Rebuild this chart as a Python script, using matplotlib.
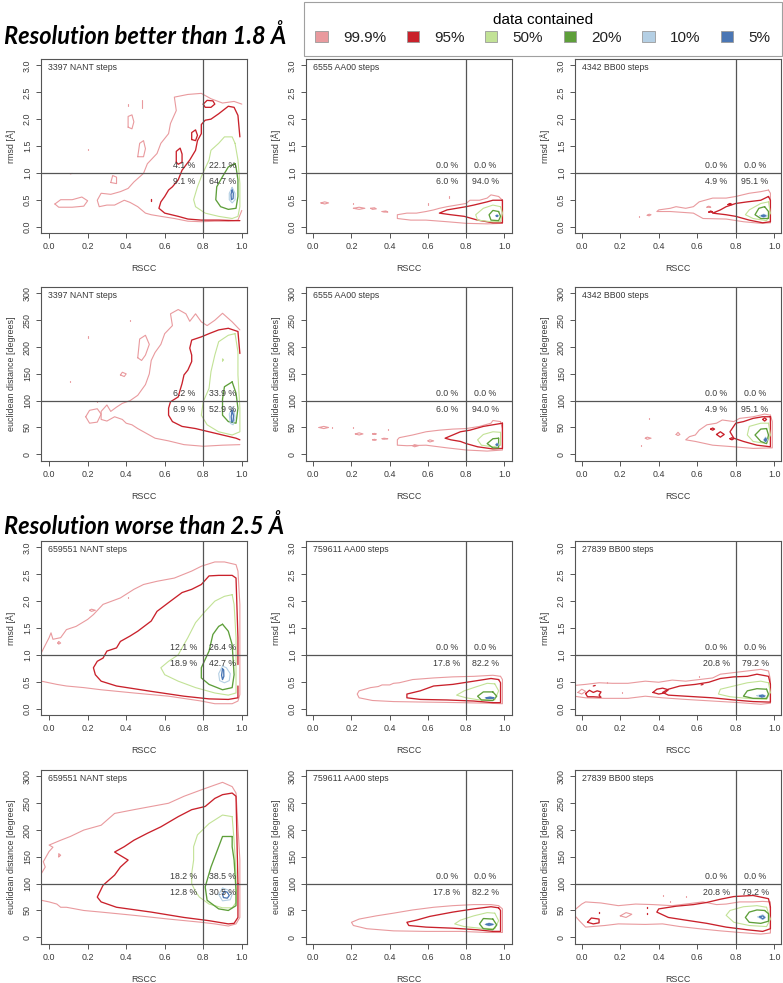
import matplotlib
matplotlib.use('Agg')
import matplotlib.pyplot as plt
from matplotlib.patches import Patch

plt.rcParams['font.family'] = ['Liberation Sans', 'DejaVu Sans']

# contour levels and their colours
LEVELS = ['99.9%', '95%', '50%', '20%', '10%', '5%']
COLORS = ['#E99A9E', '#C9212B', '#C2E296', '#5E9F3A', '#B4CFE4', '#4A76B4']
WIDTHS = [0.8, 0.95, 0.8, 0.95, 0.8, 0.95]

STEPS_HI = ['3397 NANT steps', '6555 AA00 steps', '4342 BB00 steps']
STEPS_LO = ['659551 NANT steps', '759611 AA00 steps', '27839 BB00 steps']

# quadrant percentages: upper-left, upper-right, lower-left, lower-right
PCT_HI_RMSD = [['4.1 %', '22.1 %', '9.1 %', '64.7 %'],
               ['0.0 %', '0.0 %', '6.0 %', '94.0 %'],
               ['0.0 %', '0.0 %', '4.9 %', '95.1 %']]
PCT_HI_EUCL = [['6.2 %', '33.9 %', '6.9 %', '52.9 %'],
               ['0.0 %', '0.0 %', '6.0 %', '94.0 %'],
               ['0.0 %', '0.0 %', '4.9 %', '95.1 %']]
PCT_LO_RMSD = [['12.1 %', '26.4 %', '18.9 %', '42.7 %'],
               ['0.0 %', '0.0 %', '17.8 %', '82.2 %'],
               ['0.0 %', '0.0 %', '20.8 %', '79.2 %']]
PCT_LO_EUCL = [['18.2 %', '38.5 %', '12.8 %', '30.5 %'],
               ['0.0 %', '0.0 %', '17.8 %', '82.2 %'],
               ['0.0 %', '0.0 %', '20.8 %', '79.2 %']]

# contour lines (RSCC, rmsd / euclidean distance)
# a loop whose last point repeats the first is closed
NANT_HI_RMSD = {
    '99.9%': [
        [(1.0, 2.28), (0.96, 2.33), (0.9, 2.3), (0.84, 2.38), (0.79, 2.48), (0.72, 2.46), (0.65, 2.41),
         (0.66, 2.16), (0.63, 1.92), (0.62, 1.73), (0.58, 1.55), (0.56, 1.36), (0.51, 1.17), (0.49, 0.99),
         (0.44, 0.83), (0.41, 0.71), (0.37, 0.65), (0.32, 0.6), (0.27, 0.62), (0.25, 0.49), (0.26, 0.37),
         (0.3, 0.4), (0.34, 0.4), (0.39, 0.49), (0.42, 0.45), (0.46, 0.37), (0.5, 0.25), (0.53, 0.22),
         (0.58, 0.19), (0.65, 0.15), (0.72, 0.1), (0.79, 0.09), (0.86, 0.1), (0.93, 0.1), (0.98, 0.12), (1.0, 0.3)],
        [(0.03, 0.42), (0.06, 0.5), (0.12, 0.5), (0.17, 0.55), (0.2, 0.48), (0.18, 0.38), (0.12, 0.36),
         (0.05, 0.36), (0.03, 0.42)],
        [(0.46, 1.3), (0.47, 1.55), (0.49, 1.6), (0.5, 1.45), (0.49, 1.3), (0.46, 1.3)],
        [(0.41, 1.85), (0.41, 2.05), (0.43, 2.08), (0.44, 1.95), (0.43, 1.82), (0.41, 1.85)],
        [(0.32, 0.82), (0.33, 0.95), (0.35, 0.92), (0.35, 0.8), (0.32, 0.82)],
        [(0.48, 2.2), (0.48, 2.36)],
        [(0.41, 2.24), (0.41, 2.28)],
        [(0.11, 0.98), (0.12, 0.99)],
        [(0.2, 1.42), (0.2, 1.45)],
    ],
    '95%': [
        [(0.99, 1.67), (0.98, 2.07), (0.96, 2.22), (0.93, 2.24), (0.88, 2.1), (0.84, 2.0), (0.81, 1.98),
         (0.79, 1.9), (0.79, 1.73), (0.77, 1.6), (0.76, 1.42), (0.73, 1.24), (0.69, 1.05), (0.67, 0.87),
         (0.64, 0.74), (0.62, 0.68), (0.6, 0.56), (0.58, 0.46), (0.57, 0.34), (0.6, 0.25), (0.67, 0.19),
         (0.72, 0.14), (0.79, 0.12), (0.88, 0.12), (0.96, 0.11), (0.99, 0.11)],
        [(0.8, 2.28), (0.82, 2.35), (0.85, 2.34), (0.86, 2.28), (0.84, 2.22), (0.81, 2.22), (0.8, 2.28)],
        [(0.66, 1.2), (0.66, 1.4), (0.68, 1.46), (0.69, 1.35), (0.69, 1.2), (0.67, 1.16), (0.66, 1.2)],
        [(0.74, 1.62), (0.74, 1.75), (0.76, 1.8), (0.77, 1.7), (0.76, 1.6), (0.74, 1.62)],
        [(0.53, 0.47), (0.53, 0.51)],
    ],
    '50%': [[(0.965, 1.55), (0.95, 1.67), (0.91, 1.67), (0.88, 1.55), (0.84, 1.42), (0.83, 1.24), (0.79, 0.93),
             (0.77, 0.74), (0.75, 0.5), (0.76, 0.37), (0.81, 0.25), (0.88, 0.19), (0.95, 0.15), (0.98, 0.19),
             (0.99, 0.37), (0.99, 0.8), (0.98, 1.24), (0.965, 1.55)]],
    '20%': [[(0.965, 1.17), (0.93, 1.11), (0.9, 0.93), (0.87, 0.74), (0.865, 0.5), (0.89, 0.37), (0.93, 0.32),
             (0.97, 0.34), (0.98, 0.56), (0.98, 0.87), (0.97, 1.11), (0.965, 1.17)]],
    '10%': [[(0.95, 0.73), (0.935, 0.62), (0.935, 0.5), (0.95, 0.44), (0.965, 0.5), (0.965, 0.62), (0.95, 0.73)]],
    '5%': [[(0.95, 0.68), (0.944, 0.6), (0.946, 0.5), (0.955, 0.52), (0.956, 0.62), (0.95, 0.68)]],
}

AA00_HI_RMSD = {
    '99.9%': [
        [(0.97, 0.56), (0.93, 0.59), (0.91, 0.53), (0.87, 0.49), (0.82, 0.49), (0.8, 0.43), (0.75, 0.4),
         (0.7, 0.37), (0.66, 0.34), (0.63, 0.31), (0.59, 0.28), (0.54, 0.25), (0.49, 0.25), (0.44, 0.22),
         (0.44, 0.15), (0.51, 0.12), (0.59, 0.12), (0.7, 0.09), (0.8, 0.06), (0.91, 0.05), (0.99, 0.06),
         (0.99, 0.49), (0.97, 0.56)],
        [(0.04, 0.44), (0.06, 0.46), (0.08, 0.44), (0.06, 0.42), (0.04, 0.44)],
        [(0.21, 0.34), (0.24, 0.36), (0.27, 0.34), (0.24, 0.32), (0.21, 0.34)],
        [(0.3, 0.34), (0.32, 0.35), (0.33, 0.33), (0.31, 0.32), (0.3, 0.34)],
        [(0.36, 0.28), (0.38, 0.29), (0.39, 0.27), (0.37, 0.27), (0.36, 0.28)],
        [(0.21, 0.42), (0.21, 0.44)], [(0.6, 0.41), (0.6, 0.43)], [(0.71, 0.54), (0.71, 0.56)],
    ],
    '95%': [[(0.99, 0.49), (0.94, 0.49), (0.91, 0.46), (0.84, 0.4), (0.8, 0.37), (0.75, 0.34), (0.7, 0.31),
             (0.66, 0.25), (0.72, 0.22), (0.79, 0.19), (0.86, 0.12), (0.94, 0.07), (0.99, 0.07), (0.99, 0.49)]],
    '50%': [[(0.98, 0.37), (0.94, 0.4), (0.89, 0.34), (0.85, 0.22), (0.86, 0.12), (0.93, 0.09), (0.98, 0.09),
             (0.99, 0.25), (0.98, 0.37)]],
    '20%': [[(0.97, 0.28), (0.94, 0.3), (0.92, 0.22), (0.93, 0.12), (0.97, 0.11), (0.98, 0.19), (0.97, 0.28)]],
    '10%': [[(0.955, 0.2), (0.962, 0.22), (0.97, 0.2), (0.962, 0.18), (0.955, 0.2)]],
    '5%': [[(0.958, 0.2), (0.962, 0.21), (0.966, 0.2), (0.962, 0.19), (0.958, 0.2)]],
}

BB00_HI_RMSD = {
    '99.9%': [
        [(0.97, 0.68), (0.93, 0.65), (0.87, 0.62), (0.8, 0.56), (0.75, 0.53), (0.68, 0.53), (0.61, 0.46),
         (0.58, 0.37), (0.54, 0.34), (0.49, 0.37), (0.46, 0.34), (0.4, 0.31), (0.39, 0.28), (0.46, 0.28),
         (0.58, 0.25), (0.63, 0.15), (0.75, 0.14), (0.84, 0.09), (0.93, 0.06), (0.98, 0.07), (0.98, 0.37),
         (0.98, 0.62), (0.97, 0.68)],
        [(0.34, 0.21), (0.35, 0.23), (0.36, 0.22), (0.35, 0.2), (0.34, 0.21)],
        [(0.3, 0.18), (0.3, 0.2)],
        [(0.65, 0.36), (0.66, 0.38), (0.67, 0.36), (0.65, 0.36)],
    ],
    '95%': [
        [(0.97, 0.56), (0.93, 0.49), (0.86, 0.46), (0.8, 0.43), (0.75, 0.37), (0.72, 0.31), (0.68, 0.25),
         (0.75, 0.22), (0.8, 0.19), (0.87, 0.12), (0.94, 0.07), (0.98, 0.09), (0.98, 0.49), (0.97, 0.56)],
        [(0.66, 0.27), (0.67, 0.29), (0.68, 0.27), (0.66, 0.27)],
        [(0.76, 0.41), (0.77, 0.43), (0.78, 0.41), (0.76, 0.41)],
    ],
    '50%': [[(0.97, 0.46), (0.93, 0.43), (0.87, 0.31), (0.85, 0.22), (0.89, 0.15), (0.96, 0.11), (0.98, 0.25),
             (0.97, 0.46)]],
    '20%': [[(0.95, 0.37), (0.92, 0.34), (0.9, 0.22), (0.93, 0.15), (0.97, 0.15), (0.97, 0.28), (0.95, 0.37)]],
    '10%': [[(0.925, 0.2), (0.945, 0.23), (0.965, 0.2), (0.945, 0.17), (0.925, 0.2)]],
    '5%': [[(0.935, 0.2), (0.945, 0.215), (0.955, 0.2), (0.945, 0.185), (0.935, 0.2)]],
}

NANT_HI_EUCL = {
    '99.9%': [
        [(0.99, 232), (0.95, 247), (0.9, 263), (0.86, 250), (0.82, 240), (0.79, 247), (0.76, 262), (0.73, 248),
         (0.71, 262), (0.67, 270), (0.63, 262), (0.64, 240), (0.6, 225), (0.58, 205), (0.55, 190), (0.53, 175),
         (0.52, 150), (0.5, 130), (0.48, 120), (0.46, 110), (0.42, 100), (0.38, 95), (0.35, 88), (0.32, 80),
         (0.3, 92), (0.27, 80), (0.27, 65), (0.3, 62), (0.34, 70), (0.38, 65), (0.4, 58), (0.43, 55),
         (0.46, 48), (0.5, 40), (0.55, 30), (0.62, 25), (0.7, 18), (0.8, 15), (0.9, 17), (0.99, 18)],
        [(0.19, 70), (0.21, 82), (0.25, 85), (0.27, 75), (0.25, 60), (0.21, 58), (0.19, 70)],
        [(0.46, 180), (0.47, 215), (0.5, 222), (0.52, 205), (0.5, 185), (0.48, 175), (0.46, 180)],
        [(0.37, 148), (0.38, 153), (0.4, 150), (0.39, 145), (0.37, 148)],
        [(0.11, 134), (0.11, 137)], [(0.2, 217), (0.2, 220)], [(0.25, 97), (0.25, 99)], [(0.42, 249), (0.42, 251)],
    ],
    '95%': [[(0.99, 188), (0.98, 229), (0.93, 235), (0.88, 232), (0.83, 225), (0.79, 219), (0.74, 213),
             (0.73, 198), (0.74, 185), (0.74, 173), (0.72, 157), (0.7, 148), (0.69, 132), (0.68, 120),
             (0.67, 107), (0.63, 98), (0.62, 86), (0.62, 73), (0.64, 61), (0.69, 52), (0.76, 48), (0.83, 42),
             (0.9, 36), (0.97, 30), (0.99, 27)]],
    '50%': [
        [(0.965, 225), (0.93, 222), (0.88, 210), (0.86, 185), (0.84, 154), (0.83, 123), (0.8, 98), (0.79, 73),
         (0.82, 55), (0.88, 42), (0.95, 36), (0.99, 42), (0.99, 86), (0.98, 148), (0.98, 191), (0.965, 225)],
        [(0.9, 174), (0.9, 178), (0.905, 176), (0.9, 174)],
    ],
    '20%': [[(0.95, 135), (0.91, 126), (0.9, 103), (0.9, 73), (0.93, 61), (0.97, 58), (0.98, 86), (0.97, 114),
             (0.95, 135)]],
    '10%': [[(0.95, 88), (0.935, 75), (0.94, 58), (0.955, 55), (0.965, 68), (0.96, 82), (0.95, 88)]],
    '5%': [[(0.95, 82), (0.945, 70), (0.948, 60), (0.955, 62), (0.957, 72), (0.95, 82)]],
}

AA00_HI_EUCL = {
    '99.9%': [
        [(0.98, 61), (0.94, 63), (0.93, 58), (0.87, 52), (0.8, 48), (0.73, 47), (0.66, 45), (0.59, 42),
         (0.52, 36), (0.45, 31), (0.44, 27), (0.44, 17), (0.49, 16), (0.59, 17), (0.7, 12), (0.8, 8),
         (0.91, 6), (0.99, 8), (0.99, 48), (0.98, 61)],
        [(0.03, 50), (0.055, 52), (0.08, 50), (0.055, 48), (0.03, 50)],
        [(0.1, 49), (0.1, 51)], [(0.21, 49), (0.21, 51)],
        [(0.22, 38), (0.24, 40), (0.26, 38), (0.24, 36), (0.22, 38)],
        [(0.31, 38), (0.32, 39), (0.33, 38), (0.32, 37), (0.31, 38)],
        [(0.31, 27), (0.32, 28), (0.33, 27), (0.32, 26), (0.31, 27)],
        [(0.36, 29), (0.37, 30), (0.39, 29), (0.37, 28), (0.36, 29)],
        [(0.39, 46), (0.39, 48)],
        [(0.52, 16), (0.53, 18), (0.55, 16), (0.53, 14), (0.52, 16)],
        [(0.6, 25), (0.61, 27), (0.63, 25), (0.61, 23), (0.6, 25)],
    ],
    '95%': [[(0.99, 58), (0.94, 55), (0.89, 52), (0.82, 45), (0.77, 42), (0.73, 36), (0.69, 30), (0.72, 27),
             (0.77, 24), (0.8, 20), (0.86, 14), (0.94, 10), (0.99, 11), (0.99, 58)]],
    '50%': [[(0.98, 41), (0.94, 42), (0.89, 37), (0.86, 27), (0.88, 17), (0.94, 14), (0.98, 17), (0.98, 41)]],
    '20%': [[(0.97, 30), (0.94, 29), (0.91, 20), (0.94, 12), (0.97, 12), (0.97, 30)]],
    '10%': [[(0.955, 18), (0.962, 21), (0.97, 18), (0.962, 15), (0.955, 18)]],
    '5%': [[(0.958, 18), (0.962, 19.5), (0.966, 18), (0.962, 16.5), (0.958, 18)]],
}

BB00_HI_EUCL = {
    '99.9%': [
        [(0.98, 73), (0.95, 75), (0.89, 70), (0.82, 67), (0.79, 61), (0.73, 64), (0.7, 58), (0.65, 55),
         (0.61, 45), (0.59, 36), (0.56, 33), (0.54, 27), (0.59, 24), (0.68, 17), (0.79, 14), (0.89, 11),
         (0.99, 12), (0.99, 61), (0.98, 73)],
        [(0.33, 30), (0.34, 32), (0.36, 30), (0.34, 28), (0.33, 30)],
        [(0.35, 66), (0.35, 68)], [(0.31, 16), (0.31, 18)],
        [(0.49, 37), (0.5, 41), (0.51, 37), (0.5, 35), (0.49, 37)],
    ],
    '95%': [
        [(0.98, 70), (0.94, 70), (0.89, 67), (0.84, 61), (0.8, 58), (0.77, 42), (0.79, 30), (0.84, 24),
         (0.91, 17), (0.98, 14), (0.98, 70)],
        [(0.7, 37), (0.72, 42), (0.74, 37), (0.72, 32), (0.7, 37)],
        [(0.67, 47), (0.68, 49), (0.69, 47), (0.68, 45), (0.67, 47)],
        [(0.77, 29), (0.78, 31), (0.79, 29), (0.78, 27), (0.77, 29)],
        [(0.94, 65), (0.95, 68), (0.96, 65), (0.95, 62), (0.94, 65)],
    ],
    '50%': [[(0.97, 58), (0.93, 58), (0.87, 52), (0.86, 36), (0.89, 24), (0.96, 20), (0.98, 36), (0.97, 58)]],
    '20%': [[(0.96, 48), (0.93, 47), (0.9, 36), (0.93, 24), (0.96, 20), (0.97, 36), (0.96, 48)]],
    '10%': [[(0.945, 27), (0.955, 32), (0.965, 27), (0.955, 22), (0.945, 27)]],
    '5%': [[(0.95, 27), (0.955, 30), (0.96, 27), (0.955, 24), (0.95, 27)]],
}

NANT_LO_RMSD = {
    '99.9%': [
        [(-0.04, 1.04), (0.0, 1.32), (0.01, 1.41), (0.02, 1.29), (0.06, 1.32), (0.09, 1.47), (0.14, 1.53),
         (0.2, 1.66), (0.23, 1.75), (0.28, 1.94), (0.37, 2.06), (0.44, 2.22), (0.49, 2.31), (0.56, 2.37),
         (0.65, 2.43), (0.74, 2.56), (0.79, 2.65), (0.86, 2.73), (0.91, 2.73), (0.97, 2.68), (0.98, 2.56),
         (0.99, 1.94), (0.99, 1.0), (0.99, 0.26), (0.98, 0.14), (0.95, 0.09), (0.86, 0.09), (0.79, 0.14),
         (0.62, 0.23), (0.44, 0.29), (0.27, 0.35), (0.18, 0.39), (0.09, 0.42), (0.04, 0.45), (0.0, 0.48),
         (-0.04, 0.51)],
        [(0.21, 1.83), (0.22, 1.85), (0.24, 1.83), (0.22, 1.81), (0.21, 1.83)],
        [(0.045, 1.22), (0.05, 1.25), (0.06, 1.22), (0.05, 1.2), (0.045, 1.22)],
        [(0.41, 2.05), (0.41, 2.07)],
    ],
    '95%': [[(0.98, 0.82), (0.98, 1.32), (0.97, 2.43), (0.95, 2.48), (0.88, 2.48), (0.83, 2.47), (0.79, 2.31),
             (0.74, 2.22), (0.69, 2.16), (0.63, 2.0), (0.56, 1.81), (0.53, 1.63), (0.46, 1.44), (0.42, 1.35),
             (0.37, 1.25), (0.35, 1.13), (0.3, 1.07), (0.28, 0.94), (0.25, 0.88), (0.23, 0.76), (0.24, 0.63),
             (0.27, 0.51), (0.35, 0.42), (0.53, 0.32), (0.7, 0.23), (0.83, 0.18), (0.93, 0.17), (0.98, 0.2),
             (0.98, 0.42)]],
    '50%': [[(0.95, 2.12), (0.91, 2.09), (0.86, 2.0), (0.81, 1.81), (0.76, 1.6), (0.72, 1.32), (0.69, 1.13),
             (0.67, 1.0), (0.62, 0.88), (0.58, 0.76), (0.6, 0.63), (0.67, 0.51), (0.76, 0.39), (0.86, 0.29),
             (0.93, 0.25), (0.97, 0.29), (0.97, 0.7), (0.97, 1.32), (0.96, 1.94), (0.95, 2.12)]],
    '20%': [[(0.9, 1.57), (0.88, 1.53), (0.85, 1.38), (0.83, 1.07), (0.79, 0.76), (0.79, 0.57), (0.83, 0.45),
             (0.9, 0.35), (0.95, 0.39), (0.96, 0.63), (0.95, 1.19), (0.93, 1.44), (0.9, 1.57)]],
    '10%': [[(0.9, 0.79), (0.88, 0.65), (0.885, 0.52), (0.91, 0.48), (0.935, 0.52), (0.94, 0.65), (0.92, 0.76),
             (0.9, 0.79)]],
    '5%': [[(0.9, 0.74), (0.895, 0.62), (0.9, 0.54), (0.907, 0.6), (0.906, 0.72), (0.9, 0.74)]],
}

AA00_LO_RMSD = {
    '99.9%': [[(0.98, 0.6), (0.94, 0.62), (0.84, 0.6), (0.73, 0.59), (0.63, 0.57), (0.52, 0.54), (0.45, 0.48),
               (0.42, 0.47), (0.4, 0.44), (0.36, 0.44), (0.34, 0.41), (0.3, 0.39), (0.24, 0.33), (0.23, 0.27),
               (0.24, 0.2), (0.31, 0.15), (0.42, 0.13), (0.59, 0.12), (0.77, 0.11), (0.91, 0.1), (0.99, 0.09),
               (0.99, 0.54), (0.98, 0.6)]],
    '95%': [[(0.97, 0.54), (0.93, 0.56), (0.84, 0.51), (0.73, 0.45), (0.63, 0.42), (0.56, 0.33), (0.49, 0.27),
             (0.49, 0.2), (0.56, 0.17), (0.7, 0.16), (0.84, 0.14), (0.94, 0.11), (0.98, 0.11), (0.98, 0.48),
             (0.97, 0.54)]],
    '50%': [[(0.95, 0.46), (0.91, 0.47), (0.84, 0.39), (0.79, 0.33), (0.75, 0.25), (0.8, 0.2), (0.87, 0.16),
             (0.95, 0.16), (0.97, 0.33), (0.95, 0.46)]],
    '20%': [[(0.94, 0.31), (0.89, 0.31), (0.86, 0.23), (0.88, 0.16), (0.94, 0.15), (0.96, 0.23), (0.94, 0.31)]],
    '10%': [[(0.9, 0.2), (0.925, 0.22), (0.95, 0.2), (0.925, 0.18), (0.9, 0.2)]],
    '5%': [[(0.905, 0.2), (0.925, 0.21), (0.945, 0.2), (0.925, 0.19), (0.905, 0.2)]],
}

BB00_LO_RMSD = {
    '99.9%': [
        [(-0.04, 0.43), (0.02, 0.45), (0.09, 0.48), (0.16, 0.47), (0.24, 0.47), (0.33, 0.51), (0.4, 0.49),
         (0.47, 0.53), (0.54, 0.51), (0.61, 0.54), (0.68, 0.57), (0.72, 0.64), (0.79, 0.67), (0.86, 0.7),
         (0.93, 0.73), (0.97, 0.7), (0.98, 0.54), (0.98, 0.1), (0.93, 0.08), (0.82, 0.11), (0.68, 0.14),
         (0.54, 0.17), (0.42, 0.2), (0.33, 0.23), (0.24, 0.19), (0.12, 0.19), (0.02, 0.2), (-0.04, 0.23)],
        [(-0.02, 0.3), (0.0, 0.36), (0.02, 0.32), (0.0, 0.27), (-0.02, 0.3)],
        [(0.13, 0.47), (0.13, 0.49)], [(0.21, 0.29), (0.21, 0.31)], [(0.61, 0.59), (0.61, 0.61)],
    ],
    '95%': [
        [(0.98, 0.45), (0.97, 0.6), (0.91, 0.64), (0.86, 0.6), (0.79, 0.59), (0.72, 0.56), (0.66, 0.49),
         (0.59, 0.45), (0.51, 0.42), (0.45, 0.36), (0.42, 0.3), (0.45, 0.25), (0.54, 0.23), (0.68, 0.2),
         (0.79, 0.16), (0.89, 0.13), (0.98, 0.12), (0.98, 0.45)],
        [(0.02, 0.28), (0.04, 0.34), (0.06, 0.3), (0.08, 0.33), (0.1, 0.31), (0.09, 0.25), (0.1, 0.21),
         (0.06, 0.22), (0.03, 0.22), (0.02, 0.28)],
        [(0.37, 0.3), (0.39, 0.36), (0.42, 0.38), (0.45, 0.35), (0.43, 0.29), (0.4, 0.27), (0.37, 0.3)],
        [(0.06, 0.42), (0.07, 0.43)], [(0.62, 0.44), (0.63, 0.45)],
    ],
    '50%': [[(0.97, 0.48), (0.93, 0.51), (0.86, 0.48), (0.79, 0.42), (0.72, 0.36), (0.71, 0.27), (0.77, 0.22),
             (0.86, 0.19), (0.96, 0.17), (0.98, 0.3), (0.97, 0.48)]],
    '20%': [[(0.96, 0.36), (0.91, 0.37), (0.86, 0.33), (0.84, 0.23), (0.89, 0.19), (0.96, 0.19), (0.97, 0.27),
             (0.96, 0.36)]],
    '10%': [[(0.91, 0.24), (0.935, 0.26), (0.955, 0.24), (0.935, 0.21), (0.91, 0.24)]],
    '5%': [[(0.925, 0.235), (0.94, 0.25), (0.95, 0.23), (0.935, 0.215), (0.925, 0.235)]],
}

NANT_LO_EUCL = {
    '99.9%': [
        [(-0.04, 119), (-0.02, 131), (-0.03, 141), (0.0, 160), (0.02, 168), (0.0, 172), (0.06, 181),
         (0.11, 188), (0.18, 200), (0.27, 209), (0.34, 231), (0.44, 238), (0.53, 244), (0.62, 250), (0.7, 263),
         (0.79, 275), (0.86, 284), (0.9, 289), (0.95, 281), (0.97, 269), (0.98, 206), (0.99, 144), (0.99, 81),
         (0.99, 37), (0.97, 25), (0.93, 21), (0.86, 25), (0.79, 28), (0.62, 34), (0.44, 41), (0.27, 47),
         (0.18, 50), (0.09, 56), (0.06, 56), (0.04, 62), (0.0, 66), (-0.04, 69)],
        [(0.05, 150), (0.05, 156), (0.06, 153), (0.05, 150)],
    ],
    '95%': [[(0.98, 100), (0.97, 263), (0.95, 269), (0.9, 266), (0.86, 259), (0.81, 244), (0.74, 238),
             (0.67, 225), (0.58, 206), (0.51, 194), (0.44, 181), (0.39, 169), (0.34, 159), (0.41, 144),
             (0.37, 131), (0.34, 116), (0.28, 97), (0.25, 75), (0.27, 66), (0.35, 56), (0.53, 47), (0.7, 37),
             (0.83, 31), (0.93, 25), (0.96, 26), (0.98, 37), (0.98, 100)]],
    '50%': [[(0.95, 225), (0.9, 228), (0.83, 212), (0.77, 191), (0.75, 169), (0.75, 144), (0.74, 119),
             (0.74, 100), (0.76, 85), (0.78, 75), (0.83, 62), (0.9, 55), (0.95, 55), (0.97, 65), (0.97, 120),
             (0.96, 180), (0.95, 225)]],
    '20%': [[(0.95, 188), (0.9, 188), (0.88, 169), (0.84, 131), (0.81, 94), (0.82, 69), (0.88, 53), (0.93, 50),
             (0.97, 59), (0.97, 88), (0.96, 144), (0.95, 169), (0.95, 188)]],
    '10%': [[(0.88, 80), (0.9, 92), (0.93, 88), (0.95, 80), (0.94, 70), (0.9, 68), (0.88, 80)]],
    '5%': [[(0.9, 80), (0.91, 86), (0.925, 84), (0.935, 78), (0.925, 73), (0.905, 74), (0.9, 80)]],
}

AA00_LO_EUCL = {
    '99.9%': [[(0.97, 59), (0.93, 61), (0.84, 61), (0.73, 59), (0.63, 56), (0.52, 51), (0.42, 45), (0.33, 40),
               (0.24, 34), (0.2, 28), (0.21, 22), (0.28, 16), (0.42, 12), (0.59, 11), (0.77, 11), (0.91, 9),
               (0.99, 9), (0.99, 53), (0.97, 59)]],
    '95%': [[(0.97, 55), (0.93, 57), (0.84, 53), (0.73, 47), (0.61, 39), (0.54, 32), (0.49, 28), (0.5, 22),
             (0.59, 19), (0.73, 17), (0.86, 14), (0.94, 11), (0.98, 11), (0.98, 50), (0.97, 55)]],
    '50%': [[(0.95, 45), (0.91, 46), (0.84, 40), (0.77, 32), (0.74, 25), (0.79, 20), (0.87, 17), (0.95, 16),
             (0.97, 31), (0.95, 45)]],
    '20%': [[(0.94, 34), (0.89, 35), (0.87, 25), (0.89, 16), (0.94, 14), (0.96, 23), (0.94, 34)]],
    '10%': [[(0.9, 24), (0.92, 26.5), (0.945, 24), (0.92, 21.5), (0.9, 24)]],
    '5%': [[(0.905, 24), (0.92, 25.5), (0.94, 24), (0.92, 22.5), (0.905, 24)]],
}

BB00_LO_EUCL = {
    '99.9%': [
        [(-0.04, 50), (0.0, 62), (0.02, 66), (0.1, 64), (0.19, 59), (0.28, 62), (0.37, 61), (0.47, 59),
         (0.54, 62), (0.63, 66), (0.7, 61), (0.75, 62), (0.82, 66), (0.89, 66), (0.94, 67), (0.98, 66),
         (0.98, 56), (0.98, 8), (0.93, 6), (0.82, 9), (0.72, 12), (0.61, 16), (0.51, 20), (0.42, 25),
         (0.33, 24), (0.19, 25), (0.12, 22), (0.02, 19), (-0.01, 30), (-0.04, 42)],
        [(0.2, 40), (0.23, 46), (0.26, 43), (0.23, 37), (0.2, 40)],
        [(0.42, 77), (0.42, 79)], [(0.54, 75), (0.54, 77)], [(0.46, 66), (0.46, 68)],
    ],
    '95%': [
        [(0.98, 56), (0.97, 72), (0.89, 78), (0.79, 76), (0.72, 71), (0.65, 65), (0.58, 61), (0.49, 58),
         (0.4, 53), (0.39, 47), (0.45, 37), (0.54, 32), (0.65, 26), (0.75, 19), (0.86, 14), (0.94, 11),
         (0.98, 16), (0.98, 56)],
        [(0.03, 28), (0.05, 36), (0.09, 34), (0.09, 27), (0.06, 25), (0.03, 28)],
        [(0.09, 46), (0.09, 48)], [(0.34, 55), (0.34, 57)], [(0.34, 43), (0.34, 45)],
    ],
    '50%': [[(0.96, 56), (0.91, 59), (0.84, 57), (0.77, 50), (0.75, 41), (0.79, 28), (0.87, 22), (0.96, 20),
             (0.98, 34), (0.96, 56)]],
    '20%': [[(0.95, 50), (0.91, 51), (0.87, 47), (0.85, 37), (0.87, 28), (0.93, 26), (0.97, 30), (0.97, 44),
             (0.95, 50)]],
    '10%': [[(0.915, 38), (0.94, 42), (0.955, 37), (0.94, 33), (0.915, 38)]],
    '5%': [[(0.925, 38), (0.94, 40), (0.95, 37), (0.94, 34.5), (0.925, 38)]],
}

GRID = [
    ([NANT_HI_RMSD, AA00_HI_RMSD, BB00_HI_RMSD], STEPS_HI, PCT_HI_RMSD, 'rmsd'),
    ([NANT_HI_EUCL, AA00_HI_EUCL, BB00_HI_EUCL], STEPS_HI, PCT_HI_EUCL, 'eucl'),
    ([NANT_LO_RMSD, AA00_LO_RMSD, BB00_LO_RMSD], STEPS_LO, PCT_LO_RMSD, 'rmsd'),
    ([NANT_LO_EUCL, AA00_LO_EUCL, BB00_LO_EUCL], STEPS_LO, PCT_LO_EUCL, 'eucl'),
]

W, H = 783, 983
COL_LEFT = [41, 306, 575]
ROW_TOP = [59, 287, 541, 770]
AX_W, AX_H = 206, 174
XLIMS = [(-0.042, 1.027), (-0.038, 1.04), (-0.035, 1.035)]
GREY = '#555555'
TXT = '#3a3a3a'

fig = plt.figure(figsize=(W / 100, H / 100), dpi=100)


def draw_panel(ax, contours, steps, pcts, kind, xlim):
    for lev, color, lw in zip(LEVELS, COLORS, WIDTHS):
        for pts in contours.get(lev, []):
            ax.plot([p[0] for p in pts], [p[1] for p in pts], color=color, lw=lw,
                    solid_joinstyle='round', solid_capstyle='round')

    if kind == 'rmsd':
        thr = 1.0
        ax.set_ylim(-0.12, 3.12)
        yt = [0.0, 0.5, 1.0, 1.5, 2.0, 2.5, 3.0]
        ax.set_yticks(yt, ['%.1f' % v for v in yt])
        ax.set_ylabel('rmsd [Å]', fontsize=6.4, color=TXT, labelpad=5)
    else:
        thr = 100
        ax.set_ylim(-12.5, 312)
        yt = [0, 50, 100, 150, 200, 250, 300]
        ax.set_yticks(yt, [str(v) for v in yt])
        ax.set_ylabel('euclidean distance [degrees]', fontsize=6.4, color=TXT, labelpad=5)

    ax.set_xlim(*xlim)
    xt = [0.0, 0.2, 0.4, 0.6, 0.8, 1.0]
    ax.set_xticks(xt, ['%.1f' % v for v in xt])
    ax.set_xlabel('RSCC', fontsize=6.4, color=TXT, labelpad=9)

    ax.axhline(thr, color=GREY, lw=0.9)
    ax.axvline(0.8, color=GREY, lw=0.9)

    ax.text(0.035, 0.95, steps, transform=ax.transAxes, fontsize=6.3, color=TXT, ha='left', va='center')
    ax.text(0.7, thr * 1.13, pcts[0], fontsize=6.3, color=TXT, ha='center', va='center')
    ax.text(0.9, thr * 1.13, pcts[1], fontsize=6.3, color=TXT, ha='center', va='center')
    ax.text(0.7, thr * 0.83, pcts[2], fontsize=6.3, color=TXT, ha='center', va='center')
    ax.text(0.9, thr * 0.83, pcts[3], fontsize=6.3, color=TXT, ha='center', va='center')

    for s in ax.spines.values():
        s.set_color(GREY)
        s.set_linewidth(0.8)
    ax.tick_params(direction='out', length=3.5, width=0.7, color=GREY, labelsize=6.4,
                   labelcolor=TXT, pad=3)
    ax.tick_params(axis='y', labelrotation=90)
    for lab in ax.get_yticklabels():
        lab.set_va('center')


for r, (panels, steps, pcts, kind) in enumerate(GRID):
    for c in range(3):
        rect = [COL_LEFT[c] / W, 1 - (ROW_TOP[r] + AX_H) / H, AX_W / W, AX_H / H]
        ax = fig.add_axes(rect)
        draw_panel(ax, panels[c], steps[c], pcts[c], kind, XLIMS[c])

# section titles
title_kw = dict(fontfamily=['Lato', 'DejaVu Sans'], fontweight='bold', fontstyle='italic',
                fontsize=17, va='center', ha='left', color='black')
fig.text(4 / W, 1 - 36 / H, 'Resolution better than 1.8 Å', **title_kw)
fig.text(4 / W, 1 - 526 / H, 'Resolution worse than 2.5 Å', **title_kw)

handles = [Patch(facecolor=c, edgecolor='#9a9a9a', lw=0.6) for c in COLORS]
leg = fig.legend(handles, LEVELS, loc='upper left', ncol=6, mode='expand',
                 bbox_to_anchor=(304 / W, 1 - 54 / H, 478 / W, 52 / H), borderaxespad=0,
                 title='data contained', fontsize=11, title_fontsize=11,
                 frameon=True, fancybox=False, handlelength=0.8, handleheight=0.7,
                 handletextpad=1.0, borderpad=0.75, labelspacing=0.2)
leg.get_frame().set_edgecolor('#888888')
leg.get_frame().set_linewidth(0.8)
for t in leg.get_texts():
    t.set_color('#222222')

fig.savefig('out.png', dpi=100)
